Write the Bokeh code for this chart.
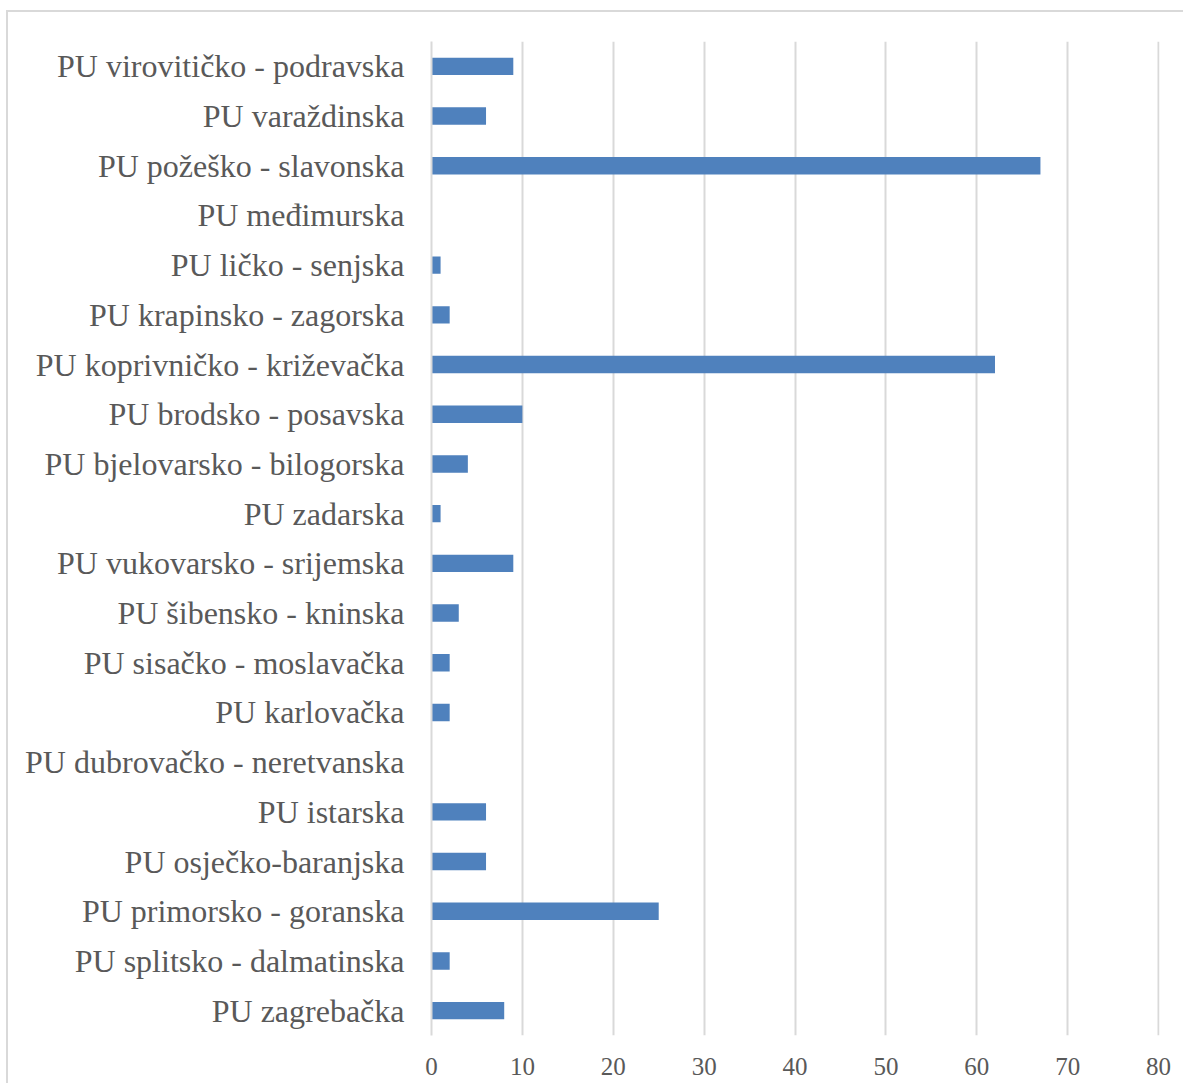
from bokeh.plotting import figure
from bokeh.models import ColumnDataSource, FactorRange, FixedTicker
from bokeh.embed import file_html
from bokeh.resources import INLINE

categories = [
    "PU zagrebačka",
    "PU splitsko - dalmatinska",
    "PU primorsko - goranska",
    "PU osječko-baranjska",
    "PU istarska",
    "PU dubrovačko - neretvanska",
    "PU karlovačka",
    "PU sisačko - moslavačka",
    "PU šibensko - kninska",
    "PU vukovarsko - srijemska",
    "PU zadarska",
    "PU bjelovarsko - bilogorska",
    "PU brodsko - posavska",
    "PU koprivničko - križevačka",
    "PU krapinsko - zagorska",
    "PU ličko - senjska",
    "PU međimurska",
    "PU požeško - slavonska",
    "PU varaždinska",
    "PU virovitičko - podravska",
]
values = [8, 2, 25, 6, 6, 0, 2, 2, 3, 9, 1, 4, 10, 62, 2, 1, 0, 67, 6, 9]
x_ticks = [0, 10, 20, 30, 40, 50, 60, 70, 80]

source = ColumnDataSource(data=dict(cat=categories, val=values))

p = figure(
    y_range=FactorRange(factors=categories, range_padding=0),
    x_range=(0, 80.1),
    width=1175, height=1071,
    frame_width=728, frame_height=994,
    min_border_left=423, min_border_top=29, min_border_right=24, min_border_bottom=48,
    output_backend="svg", toolbar_location=None,
)
p.styles = {
    "border-top": "2px solid #d9d9d9",
    "border-left": "2px solid #d9d9d9",
    "margin-left": "6px",
    "margin-top": "10px",
}

p.hbar(y="cat", right="val", left=0, height=0.35, source=source,
       fill_color="#4f81bd", line_color=None)

p.outline_line_color = None
p.ygrid.grid_line_color = None
p.xgrid.grid_line_color = "#d9d9d9"
p.xgrid.grid_line_width = 2
p.xaxis.ticker = FixedTicker(ticks=x_ticks)

for ax in (p.xaxis, p.yaxis):
    ax.major_tick_line_color = None
    ax.minor_tick_line_color = None
    ax.major_label_text_font = "Liberation Serif"
    ax.major_label_text_color = "#595959"

p.xaxis.axis_line_color = None
p.yaxis.axis_line_color = "#d9d9d9"
p.yaxis.axis_line_width = 2
p.yaxis.major_label_text_font_size = "32px"
p.yaxis.major_label_standoff = 21
p.xaxis.major_label_text_font_size = "25px"
p.xaxis.major_label_standoff = 16

open("out.html", "w").write(file_html(p, INLINE))
